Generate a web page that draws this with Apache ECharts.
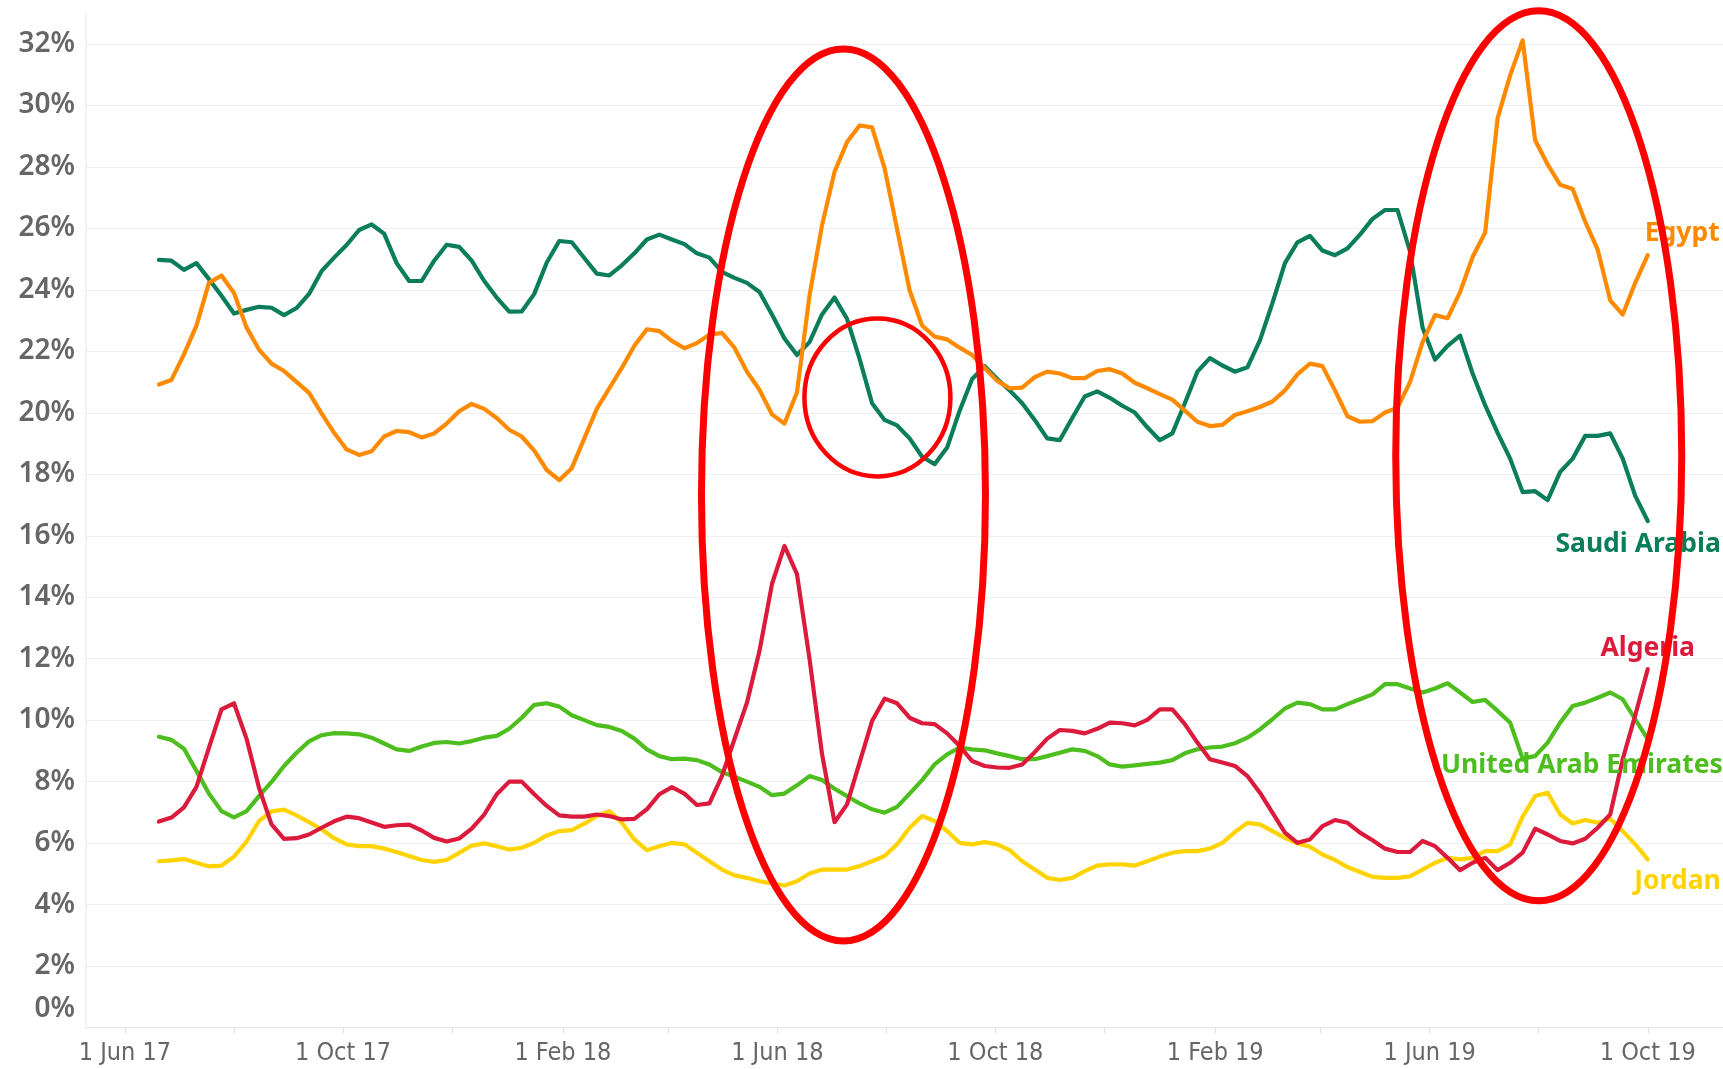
<!DOCTYPE html>
<html>
<head>
<meta charset="utf-8">
<script src="https://cdn.jsdelivr.net/npm/echarts@6/dist/echarts.min.js"></script>
<style>
  html, body { margin: 0; padding: 0; background: #ffffff; }
  #chart { width: 1723px; height: 1069px; }
</style>
</head>
<body>
<div id="chart"></div>
<script>
// ---------------- DATA (weekly shares, %) ----------------
const firstWeek = '2017-06-20';          // first weekly observation
const egypt = [20.92,21.07,21.90,22.84,24.23,24.47,23.90,22.78,22.06,21.60,
21.36,21.01,20.65,19.98,19.35,18.81,18.63,18.75,19.23,19.41,
19.37,19.20,19.33,19.65,20.05,20.29,20.13,19.83,19.45,19.23,
18.77,18.14,17.81,18.20,19.17,20.13,20.80,21.46,22.18,22.72,
22.66,22.34,22.10,22.27,22.54,22.60,22.12,21.34,20.75,19.95,
19.65,20.67,23.81,26.10,27.84,28.81,29.35,29.29,27.96,25.98,
23.99,22.84,22.48,22.39,22.12,21.88,21.46,21.04,20.80,20.82,
21.16,21.34,21.28,21.13,21.13,21.36,21.42,21.28,20.98,20.80,
20.61,20.43,20.07,19.71,19.57,19.61,19.93,20.05,20.19,20.37,
20.73,21.25,21.60,21.52,20.73,19.89,19.71,19.73,20.01,20.17,
21.00,22.30,23.18,23.08,23.93,25.07,25.86,29.59,30.98,32.12,
28.87,28.08,27.42,27.28,26.22,25.31,23.66,23.20,24.23,25.13];

const saudiArabia = [24.98,24.95,24.65,24.87,24.35,23.81,23.23,23.35,23.45,23.42,
23.18,23.41,23.87,24.61,25.05,25.46,25.95,26.13,25.83,24.87,
24.29,24.29,24.95,25.47,25.40,24.95,24.29,23.75,23.29,23.30,
23.87,24.89,25.59,25.55,25.04,24.53,24.47,24.80,25.19,25.64,
25.80,25.64,25.49,25.19,25.05,24.59,24.39,24.23,23.93,23.20,
22.42,21.88,22.30,23.20,23.75,23.06,21.76,20.31,19.77,19.59,
19.17,18.57,18.33,18.87,20.07,21.10,21.52,21.10,20.73,20.31,
19.77,19.17,19.11,19.83,20.53,20.70,20.49,20.23,20.01,19.53,
19.11,19.33,20.31,21.34,21.78,21.54,21.34,21.48,22.36,23.57,
24.87,25.55,25.76,25.28,25.13,25.35,25.80,26.31,26.60,26.60,
25.25,22.78,21.73,22.18,22.51,21.28,20.25,19.35,18.51,17.42,
17.45,17.16,18.08,18.51,19.25,19.25,19.33,18.51,17.30,16.48];

const uae = [9.46,9.36,9.07,8.35,7.61,7.04,6.84,7.04,7.53,7.99,
8.51,8.94,9.31,9.51,9.58,9.57,9.54,9.43,9.24,9.05,
9.00,9.14,9.26,9.29,9.24,9.32,9.43,9.49,9.72,10.08,
10.50,10.55,10.44,10.16,10.00,9.84,9.78,9.65,9.40,9.05,
8.83,8.73,8.75,8.70,8.56,8.31,8.16,8.00,7.83,7.56,
7.61,7.88,8.18,8.05,7.77,7.53,7.29,7.10,6.99,7.18,
7.61,8.05,8.56,8.89,9.11,9.05,9.02,8.92,8.83,8.73,
8.73,8.83,8.94,9.05,9.00,8.83,8.56,8.49,8.53,8.58,
8.62,8.70,8.92,9.05,9.11,9.14,9.25,9.43,9.70,10.03,
10.38,10.57,10.52,10.35,10.35,10.52,10.68,10.84,11.17,11.17,
11.03,10.90,11.03,11.20,10.90,10.59,10.66,10.30,9.92,8.75,
8.83,9.27,9.92,10.46,10.57,10.73,10.90,10.68,10.03,9.38];

const algeria = [6.70,6.83,7.16,7.83,9.11,10.35,10.55,9.40,7.80,6.61,
6.14,6.16,6.28,6.50,6.71,6.86,6.81,6.67,6.53,6.58,
6.60,6.41,6.17,6.05,6.15,6.47,6.93,7.59,8.00,8.00,
7.59,7.21,6.90,6.86,6.86,6.93,6.88,6.77,6.79,7.10,
7.59,7.82,7.61,7.24,7.29,8.18,9.38,10.57,12.25,14.43,
15.67,14.75,12.00,8.90,6.68,7.26,8.62,9.97,10.70,10.55,
10.08,9.90,9.87,9.57,9.16,8.67,8.51,8.46,8.45,8.56,
8.96,9.40,9.68,9.65,9.57,9.72,9.92,9.90,9.83,10.01,
10.35,10.35,9.87,9.27,8.73,8.62,8.51,8.18,7.64,6.99,
6.34,6.01,6.12,6.55,6.75,6.66,6.34,6.09,5.82,5.71,
5.71,6.07,5.90,5.52,5.12,5.36,5.52,5.12,5.36,5.69,
6.47,6.28,6.07,5.99,6.14,6.50,6.93,8.73,10.16,11.66];

const jordan = [5.41,5.44,5.48,5.36,5.24,5.27,5.56,6.05,6.72,7.03,
7.09,6.90,6.68,6.45,6.16,5.96,5.90,5.90,5.82,5.71,
5.58,5.45,5.39,5.45,5.68,5.92,5.99,5.90,5.79,5.85,
6.01,6.25,6.39,6.42,6.63,6.88,7.04,6.66,6.12,5.77,
5.90,6.01,5.96,5.69,5.41,5.14,4.95,4.87,4.76,4.69,
4.62,4.76,5.01,5.14,5.14,5.14,5.25,5.41,5.58,5.96,
6.50,6.88,6.72,6.39,6.01,5.96,6.03,5.96,5.77,5.41,
5.14,4.87,4.80,4.87,5.09,5.27,5.31,5.31,5.27,5.41,
5.56,5.69,5.74,5.74,5.82,6.01,6.36,6.66,6.61,6.39,
6.17,5.99,5.88,5.63,5.45,5.22,5.06,4.90,4.87,4.87,
4.92,5.14,5.36,5.52,5.47,5.52,5.74,5.74,5.96,6.86,
7.53,7.64,6.93,6.64,6.75,6.66,6.79,6.39,5.96,5.47];

const xLabelDates = ['2017-06-01','2017-10-01','2018-02-01','2018-06-01',
                     '2018-10-01','2019-02-01','2019-06-01','2019-10-01'];
const xTickDates = ['2017-06-01','2017-08-01','2017-10-01','2017-12-01','2018-02-01',
                    '2018-04-01','2018-06-01','2018-08-01','2018-10-01','2018-12-01',
                    '2019-02-01','2019-04-01','2019-06-01','2019-08-01','2019-10-01'];
const monthNames = ['Jan','Feb','Mar','Apr','May','Jun','Jul','Aug','Sep','Oct','Nov','Dec'];

// annotation ellipses anchored in data space (date, %), radii in px
const annotations = [
  { date: '2018-07-08', value: 17.33, rx: 142, ry: 446, lw: 7 },
  { date: '2019-08-01', value: 18.60, rx: 143, ry: 445, lw: 7 },
  { date: '2018-07-27', value: 20.50, rx: 73,  ry: 79,  lw: 4.5 }
];

// ---------------- CHART ----------------
const DAY = 86400000;
const t0 = Date.parse(firstWeek);
const weekDates = egypt.map((_, i) => t0 + i * 7 * DAY);

const seriesDefs = [
  { name: 'Jordan',               values: jordan,      color: '#FFD300', label: { align: 'right', dx: 73, dy: 22 } },
  { name: 'United Arab Emirates', values: uae,         color: '#4DBE1E', label: { align: 'right', dx: 75, dy: 26 } },
  { name: 'Algeria',              values: algeria,     color: '#DC1A3C', label: { align: 'center', dx: 0, dy: -21 } },
  { name: 'Saudi Arabia',         values: saudiArabia, color: '#0A7D5A', label: { align: 'right', dx: 73, dy: 23 } },
  { name: 'Egypt',                values: egypt,       color: '#FF8A00', label: { align: 'left', dx: -3, dy: -22 } }
];

const xMin = Date.parse('2017-06-01') - 21.8 * DAY;
const xMax = Date.parse('2019-10-01') + 42.1 * DAY;

function fmtDate(v) {
  const d = new Date(v);
  return d.getUTCDate() + ' ' + monthNames[d.getUTCMonth()] + ' ' + String(d.getUTCFullYear()).slice(2);
}

const chart = echarts.init(document.getElementById('chart'), null, { renderer: 'canvas' });

const option = {
  animation: false,
  backgroundColor: '#ffffff',
  grid: { left: 86, right: 0, top: 13.3, bottom: 41.5, containLabel: false, outerBoundsMode: 'none' },
  xAxis: {
    type: 'value',
    min: xMin,
    max: xMax,
    axisLine: { show: true, lineStyle: { color: '#e6e6e6', width: 1 } },
    axisTick: {
      show: true,
      customValues: xTickDates.map(d => Date.parse(d)),
      length: 6,
      lineStyle: { color: '#e0e0e0', width: 1 }
    },
    axisLabel: {
      customValues: xLabelDates.map(d => Date.parse(d)),
      formatter: fmtDate,
      color: '#666666',
      fontSize: 25,
      fontFamily: '"Liberation Sans Narrow", "DejaVu Sans Condensed", "Roboto", sans-serif',
      margin: 13
    },
    splitLine: { show: false }
  },
  yAxis: {
    type: 'value',
    min: 0,
    max: 33,
    interval: 2,
    axisLine: { show: true, lineStyle: { color: '#eeeeee', width: 1.5 } },
    axisTick: { show: false },
    splitLine: { show: true, showMaxLine: false, showMinLine: false, lineStyle: { color: '#efefef', width: 1.2 } },
    axisLabel: {
      showMaxLabel: false,
      margin: 11,
      color: '#666666',
      fontSize: 28,
      fontWeight: 600,
      fontFamily: '"Noto Sans", "DejaVu Sans", sans-serif',
      formatter: v => v === 0 ? '{z|0%}' : v + '%',
      rich: {
        z: { color: '#666666', fontSize: 28, fontWeight: 600, fontFamily: '"Noto Sans", "DejaVu Sans", sans-serif', padding: [0, 0, 36, 0] }
      }
    }
  },
  series: seriesDefs.map(s => ({
    name: s.name,
    type: 'line',
    data: s.values.map((v, i) => [weekDates[i], v]),
    showSymbol: false,
    symbol: 'none',
    smooth: false,
    lineStyle: { color: s.color, width: 4.2, join: 'round', cap: 'round' },
    itemStyle: { color: s.color },
    emphasis: { disabled: true }
  }))
};

chart.setOption(option);

// ---- annotation graphics (end labels + red ellipses), placed through the axes ----
const elements = [];
seriesDefs.forEach(s => {
  const last = s.values.length - 1;
  const [ex, ey] = chart.convertToPixel({ gridIndex: 0 }, [weekDates[last], s.values[last]]);
  elements.push({
    type: 'text',
    x: ex + s.label.dx,
    y: ey + s.label.dy,
    z: 50,
    silent: true,
    style: {
      text: s.name,
      fill: s.color,
      font: 'bold 26.5px "Noto Sans", "DejaVu Sans", sans-serif',
      align: s.label.align,
      verticalAlign: 'middle',
      textAlign: s.label.align,
      textVerticalAlign: 'middle'
    }
  });
});
annotations.forEach(a => {
  const [cx, cy] = chart.convertToPixel({ gridIndex: 0 }, [Date.parse(a.date), a.value]);
  elements.push({
    type: 'ellipse',
    z: 100,
    silent: true,
    shape: { cx: cx, cy: cy, rx: a.rx, ry: a.ry },
    style: { fill: 'none', stroke: '#ff0000', lineWidth: a.lw }
  });
});
chart.setOption({ graphic: { elements: elements } });
</script>
</body>
</html>
